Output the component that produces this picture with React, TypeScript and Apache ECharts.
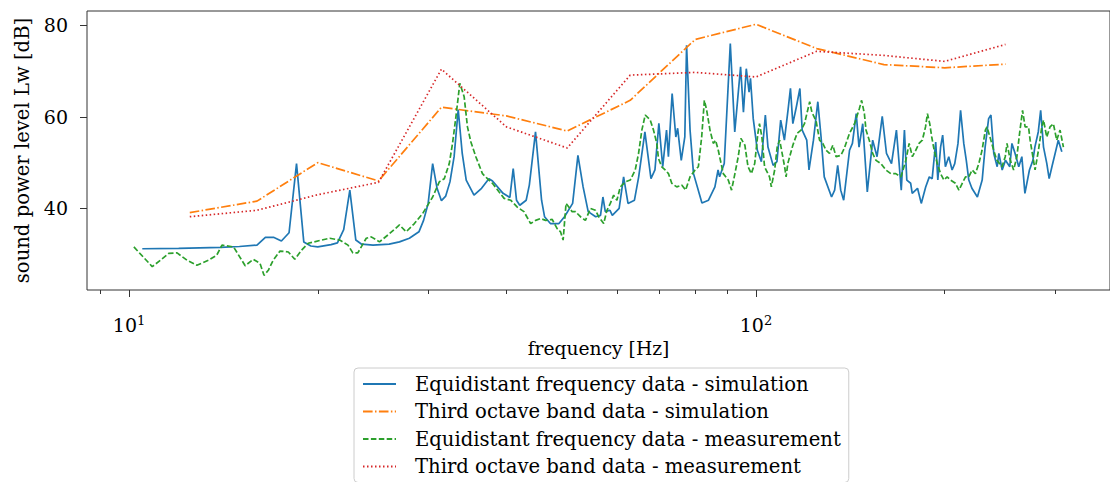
import React, { useEffect, useRef } from "react";
import * as echarts from "echarts";

// ---------- data ----------
const bandCenters = [12.5, 16, 20, 25, 31.5, 40, 50, 63, 80, 100, 125, 160, 200, 250];
const simBandLevels = [39.1, 41.6, 50.0, 46.0, 62.1, 60.2, 56.9, 63.6, 76.9, 80.2, 74.9, 71.4, 70.7, 71.5];
const measBandLevels = [38.2, 39.6, 43.0, 45.7, 70.4, 57.8, 53.2, 69.1, 69.7, 68.7, 74.3, 73.4, 72.1, 75.8];

const simEquidistant: [number, number][] = [
  [10.5, 31.2], [12, 31.3], [14, 31.5], [15, 31.7], [16, 32.0], [16.5, 33.7], [17, 33.7], [17.5, 32.9],
  [18, 34.7], [18.5, 49.8], [19, 32.7], [19.5, 31.8], [20, 31.6], [21, 32.1], [21.5, 32.5], [22, 35.4],
  [22.5, 44.0], [23, 33.1], [23.5, 32.2], [24.5, 32.0], [26, 32.2], [27, 32.7], [28, 33.5], [29, 34.9],
  [29.5, 37.4], [30, 41.1], [30.5, 49.8], [31, 44.4], [31.5, 41.7], [32, 42.7], [32.5, 45.8], [33, 51.3],
  [33.5, 61.6], [34, 52.0], [34.5, 46.2], [35.5, 42.9], [36.5, 44.4], [37.5, 46.5], [38, 46.0], [39.5, 43.3],
  [40.5, 42.4], [41, 48.7], [41.5, 41.8], [42, 40.7], [43, 41.8], [43.5, 45.1], [44.5, 56.7], [45.5, 41.8],
  [46, 38.2], [47, 36.7], [48.5, 36.7], [49.5, 38.2], [51, 41.1], [52, 51.6], [53, 44.7], [54, 39.3],
  [55.5, 38.2], [56.5, 38.5], [57, 42.5], [57.5, 39.3], [58.5, 39.6], [59, 38.5], [60.5, 40.0], [61.5, 46.9],
  [62.5, 41.1], [64, 41.8], [65, 46.9], [66.5, 56.7], [68, 46.5], [69, 48.4], [70, 58.6], [71, 49.1],
  [72, 57.1], [72.5, 51.3], [73.5, 65.1], [74.5, 55.6], [75, 57.5], [76, 50.5], [77, 55.6], [77.5, 75.6],
  [78.5, 57.1], [79.5, 47.6], [82, 41.2], [84, 41.8], [86, 44.7], [87, 48.4], [87.5, 46.9], [89, 49.8],
  [91, 76.0], [92.5, 56.7], [94.5, 70.9], [95.5, 61.0], [96.5, 70.5], [97.5, 65.4], [98, 68.4], [99, 59.6],
  [100.5, 52.7], [102, 50.2], [103.5, 60.4], [104.5, 53.4], [106.5, 49.4], [108, 50.2], [109.5, 59.3], [111, 54.9],
  [112.5, 61.5], [113.5, 66.2], [114.5, 58.5], [116, 62.2], [117.5, 66.2], [118.5, 57.1], [120.5, 54.9], [121.5, 48.4],
  [123.5, 54.9], [125.5, 63.3], [127, 55.6], [128.5, 46.9], [132, 42.5], [133.5, 44.0], [135, 49.4], [136.5, 44.0],
  [138, 41.8], [141, 52.7], [142.5, 54.2], [144.5, 60.7], [146, 53.4], [148, 58.5], [150.5, 43.6], [153.5, 54.9],
  [156, 51.3], [159, 60.1], [161.5, 52.0], [164.5, 49.8], [167.5, 57.1], [170.5, 44.0], [172.5, 57.1], [174, 46.2],
  [176.5, 45.5], [177.5, 43.3], [181, 44.4], [183.5, 41.1], [186.5, 44.7], [189, 46.9], [191, 46.5], [193.5, 54.5],
  [195, 46.2], [197, 53.4], [198.5, 56.0], [200.5, 49.1], [203, 51.3], [205.5, 48.4], [207.5, 49.8], [210, 54.2],
  [212, 61.4], [214.5, 54.2], [216.5, 50.5], [218.5, 46.2], [221, 44.4], [225.5, 42.5], [229.5, 46.2], [232, 53.4],
  [235, 59.6], [237, 60.4], [239.5, 52.0], [242.5, 49.1], [244, 52.0], [247, 48.4], [250, 50.5], [254, 49.1],
  [256, 54.2], [259, 52.0], [262.5, 49.1], [265.5, 51.3], [268.5, 43.3], [273, 48.4], [276.5, 50.5], [278.5, 53.4],
  [282, 56.7], [284.5, 61.4], [287.5, 53.4], [291, 49.8], [293.5, 46.5], [296.5, 49.1], [300, 52.0], [303.5, 54.9],
  [307.5, 52.4],
];

const measEquidistant: [number, number][] = [
  [10.18, 31.6], [10.89, 27.3], [11.22, 28.7], [11.57, 30.2], [11.93, 30.3], [12.37, 28.7], [12.83, 27.6], [13.39, 28.7],
  [13.8, 29.8], [14.07, 32.0], [14.68, 31.6], [15.32, 27.5], [15.79, 28.9], [16.18, 28.0], [16.42, 25.4], [16.68, 26.5],
  [16.98, 28.7], [17.41, 30.7], [17.95, 30.5], [18.38, 28.9], [18.85, 30.9], [19.31, 32.4], [20.15, 33.0], [20.9, 33.5],
  [21.68, 33.1], [22.35, 32.0], [22.75, 30.3], [23.17, 30.3], [23.9, 33.5], [24.34, 33.8], [25.09, 32.7], [26.03, 34.5],
  [27.0, 36.4], [27.67, 34.9], [28.52, 36.7], [29.4, 38.9], [30.5, 42.5], [31.25, 45.8], [31.83, 46.5], [32.42, 49.8],
  [32.81, 54.2], [33.22, 60.0], [33.7, 67.3], [34.24, 64.4], [34.66, 57.8], [35.1, 54.5], [35.74, 51.3], [36.62, 47.6],
  [37.3, 46.5], [37.99, 45.5], [38.93, 43.6], [39.65, 42.2], [40.62, 41.8], [41.62, 40.3], [42.65, 39.3], [43.71, 36.7],
  [44.52, 37.4], [45.34, 37.8], [46.18, 37.4], [47.31, 37.6], [48.18, 35.6], [48.78, 34.9], [49.25, 33.1], [49.78, 41.1],
  [50.29, 40.3], [50.9, 39.3], [51.54, 39.3], [52.48, 38.2], [53.45, 37.4], [54.45, 40.0], [55.45, 39.6], [56.12, 38.2],
  [57.16, 36.7], [57.85, 39.6], [58.57, 41.1], [59.29, 42.9], [60.01, 41.8], [60.75, 44.7], [61.88, 45.8], [63.02, 46.2],
  [64.18, 48.4], [64.97, 52.0], [65.76, 57.1], [66.58, 60.4], [67.81, 59.3], [68.64, 57.1], [69.47, 54.2], [69.9, 50.9],
  [70.75, 49.1], [71.63, 48.4], [72.51, 47.6], [73.39, 45.5], [74.75, 44.7], [76.13, 45.1], [77.23, 44.0], [78.5, 46.9],
  [79.96, 48.4], [80.93, 49.1], [81.92, 55.6], [82.73, 63.6], [83.43, 61.5], [84.46, 57.1], [85.49, 54.2], [86.2, 54.9],
  [87.07, 52.7], [88.68, 47.6], [90.32, 46.2], [91.42, 44.0], [92.56, 47.6], [93.69, 51.3], [94.62, 55.3], [96.01, 53.8],
  [96.59, 51.3], [97.12, 49.1], [98.3, 47.6], [99.53, 49.8], [100.7, 56.4], [101.3, 58.5], [102.2, 55.6], [103.2, 49.1],
  [105.1, 46.9], [105.8, 44.7], [107.1, 48.4], [108.1, 53.4], [109.1, 54.9], [111.1, 49.1], [111.7, 46.9], [112.4, 49.8],
  [114.5, 53.8], [116.3, 56.4], [118.0, 57.1], [119.5, 58.5], [121.8, 63.3], [122.8, 61.0], [124.7, 59.1], [126.3, 54.9],
  [127.8, 54.2], [129.4, 52.7], [131.0, 52.0], [132.6, 53.8], [134.2, 51.3], [136.6, 51.6], [138.3, 53.1], [141.0, 56.4],
  [143.6, 58.5], [146.2, 61.8], [147.4, 63.6], [148.9, 60.7], [149.8, 57.1], [151.6, 54.9], [153.5, 52.0], [155.4, 50.5],
  [158.2, 49.8], [161.1, 48.4], [164.1, 47.6], [167.1, 47.6], [170.3, 46.9], [172.2, 49.1], [173.4, 50.5], [175.5, 54.2],
  [177.6, 51.3], [179.8, 52.7], [182.0, 54.2], [184.2, 54.9], [186.4, 57.8], [187.7, 60.7], [189.3, 58.5], [190.7, 55.6],
  [192.4, 52.7], [194.6, 49.8], [197.0, 47.6], [199.4, 46.2], [201.8, 46.9], [204.3, 46.2], [208.0, 45.5], [210.7, 44.0],
  [213.3, 45.5], [215.9, 46.9], [218.5, 46.9], [221.2, 48.4], [223.9, 47.6], [226.7, 49.8], [229.4, 52.7], [232.2, 57.1],
  [233.6, 57.8], [236.5, 55.3], [239.4, 52.7], [242.3, 50.5], [246.8, 49.1], [249.8, 51.3], [251.4, 54.2], [254.5, 50.5],
  [257.6, 48.4], [260.7, 51.3], [263.3, 56.4], [266.2, 61.4], [268.7, 57.8], [272.1, 57.8], [273.7, 54.9], [277.1, 50.5],
  [278.7, 48.4], [282.2, 52.7], [285.7, 57.8], [287.5, 59.3], [290.9, 55.6], [294.4, 57.8], [298.1, 58.5], [301.8, 54.9],
  [305.5, 57.1], [309.3, 53.4],
];

const xMajorTicks = [10, 100];
const xMinorTicks = [9, 20, 30, 40, 50, 60, 70, 80, 90, 200, 300];
const yTicks = [40, 60, 80];
const X_MIN = 8.57;
const X_MAX = 367;
const Y_MIN = 22.2;
const Y_MAX = 83.1;

const seriesNames = [
  "Equidistant frequency data - simulation",
  "Third octave band data - simulation",
  "Equidistant frequency data - measurement",
  "Third octave band data - measurement",
];

const FONT = "DejaVu Serif";

export default function App() {
  const ref = useRef<HTMLDivElement>(null);

  useEffect(() => {
    if (!ref.current) return;
    const chart = echarts.init(ref.current, null, { renderer: "svg" });
    const simBand = bandCenters.map((f, i) => [f, simBandLevels[i]]);
    const measBand = bandCenters.map((f, i) => [f, measBandLevels[i]]);
    const tickLine = { color: "#333", width: 1 };

    const option: any = {
      animation: false,
      backgroundColor: "#fff",
      grid: {
        left: 87, top: 11, width: 1027, height: 279,
        show: true, borderColor: "#333", borderWidth: 1, backgroundColor: "transparent",
        containLabel: false,
      },
      xAxis: [
        {
          type: "log", logBase: 10, min: X_MIN, max: X_MAX, position: "bottom",
          axisLine: { show: false }, splitLine: { show: false }, minorTick: { show: false },
          axisTick: { show: true, length: 7, customValues: xMajorTicks, lineStyle: tickLine },
          axisLabel: {
            customValues: xMajorTicks, margin: 24, color: "#000",
            formatter: (v: number) => `{b|10}{s|${Math.round(Math.log10(v))}}`,
            rich: {
              b: { fontFamily: FONT, fontSize: 19, lineHeight: 22, color: "#000" },
              s: { fontFamily: FONT, fontSize: 13, lineHeight: 13, verticalAlign: "top", color: "#000" },
            },
          },
          name: "frequency [Hz]", nameLocation: "middle", nameGap: 48,
          nameTextStyle: { fontFamily: FONT, fontSize: 18.7, color: "#000" },
        },
        {
          type: "log", logBase: 10, min: X_MIN, max: X_MAX, position: "bottom",
          axisLine: { show: false }, splitLine: { show: false },
          axisTick: { show: true, length: 4, customValues: xMinorTicks, lineStyle: tickLine },
          axisLabel: { show: false },
        },
      ],
      yAxis: {
        type: "value", min: Y_MIN, max: Y_MAX,
        axisLine: { show: false }, splitLine: { show: false },
        axisTick: { show: true, length: 7, customValues: yTicks, lineStyle: tickLine },
        axisLabel: { customValues: yTicks, margin: 19, fontFamily: FONT, fontSize: 19, color: "#000" },
        name: "sound power level Lw [dB]", nameLocation: "middle", nameGap: 47, nameRotate: 90,
        nameTextStyle: { fontFamily: FONT, fontSize: 19.6, color: "#000" },
      },
      legend: {
        orient: "vertical", left: 354, top: 368, height: 140,
        padding: [6, 8, 6, 8], itemGap: 7.5, itemWidth: 33, itemHeight: 20,
        borderColor: "#ccc", borderWidth: 1, borderRadius: 4, backgroundColor: "rgba(255,255,255,0.8)",
        itemStyle: { opacity: 0 },
        textStyle: { fontFamily: FONT, fontSize: 19.6, color: "#000", padding: [0, 0, 0, 14], lineHeight: 20 },
        data: seriesNames,
      },
      series: [
        {
          name: seriesNames[0], type: "line", data: simEquidistant, xAxisIndex: 0,
          symbol: "none", lineStyle: { color: "#1f77b4", width: 1.7 }, itemStyle: { color: "#1f77b4" },
        },
        {
          name: seriesNames[1], type: "line", data: simBand, xAxisIndex: 0,
          symbol: "none", lineStyle: { color: "#ff7f0e", width: 1.7, type: [9.6, 2.4, 1.5, 2.4] },
          itemStyle: { color: "#ff7f0e" },
        },
        {
          name: seriesNames[2], type: "line", data: measEquidistant, xAxisIndex: 0,
          symbol: "none", lineStyle: { color: "#2ca02c", width: 1.7, type: [5.5, 2.4] },
          itemStyle: { color: "#2ca02c" },
        },
        {
          name: seriesNames[3], type: "line", data: measBand, xAxisIndex: 0,
          symbol: "none", lineStyle: { color: "#d62728", width: 1.7, type: [1.5, 2.5] },
          itemStyle: { color: "#d62728" },
        },
      ],
    };
    chart.setOption(option);
    return () => chart.dispose();
  }, []);

  return (
    <div
      ref={ref}
      style={{ position: "absolute", left: 0, top: 0, width: 1110, height: 482 }}
    />
  );
}
